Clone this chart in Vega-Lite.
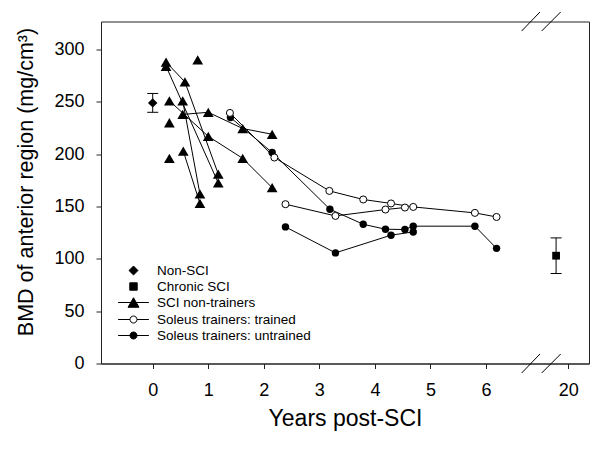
{
  "$schema": "https://vega.github.io/schema/vega-lite/v6.json",
  "width": 488,
  "height": 342,
  "autosize": "none",
  "padding": {"left": 101, "top": 21.5, "right": 11, "bottom": 85.5},
  "background": "white",
  "config": {
    "view": {"stroke": "#222", "strokeWidth": 1},
    "font": "Liberation Sans",
    "axis": {
      "grid": false,
      "domainColor": "#222",
      "tickColor": "#222",
      "tickSize": 5,
      "labelFont": "Liberation Sans",
      "labelFontSize": 18,
      "labelColor": "black",
      "titleFont": "Liberation Sans",
      "titleFontWeight": "normal",
      "titleColor": "black"
    }
  },
  "datasets": {
    "bmd": [
      {"series": "Non-SCI", "subject": "N", "year": 0, "bmd": 249, "lo": 240, "hi": 258},
      {"series": "Chronic SCI", "subject": "C", "year": 19.78, "bmd": 103, "lo": 86, "hi": 120},
      {"series": "SCI non-trainers", "subject": "T1", "year": 0.24, "bmd": 288},
      {"series": "SCI non-trainers", "subject": "T1", "year": 0.58, "bmd": 269},
      {"series": "SCI non-trainers", "subject": "T1", "year": 1.18, "bmd": 181},
      {"series": "SCI non-trainers", "subject": "T2", "year": 0.24, "bmd": 284},
      {"series": "SCI non-trainers", "subject": "T2", "year": 1.18, "bmd": 172.5},
      {"series": "SCI non-trainers", "subject": "T3", "year": 0.30, "bmd": 251},
      {"series": "SCI non-trainers", "subject": "T3", "year": 1.00, "bmd": 217},
      {"series": "SCI non-trainers", "subject": "T3", "year": 1.62, "bmd": 196},
      {"series": "SCI non-trainers", "subject": "T3", "year": 2.15, "bmd": 168},
      {"series": "SCI non-trainers", "subject": "T4", "year": 0.54, "bmd": 238},
      {"series": "SCI non-trainers", "subject": "T4", "year": 1.00, "bmd": 240},
      {"series": "SCI non-trainers", "subject": "T4", "year": 1.62, "bmd": 224.5},
      {"series": "SCI non-trainers", "subject": "T4", "year": 2.15, "bmd": 219},
      {"series": "SCI non-trainers", "subject": "T5", "year": 0.54, "bmd": 251},
      {"series": "SCI non-trainers", "subject": "T5", "year": 0.85, "bmd": 162},
      {"series": "SCI non-trainers", "subject": "T6", "year": 0.55, "bmd": 203},
      {"series": "SCI non-trainers", "subject": "T6", "year": 0.85, "bmd": 153},
      {"series": "SCI non-trainers", "subject": "T7", "year": 0.81, "bmd": 290},
      {"series": "SCI non-trainers", "subject": "T8", "year": 0.30, "bmd": 230},
      {"series": "SCI non-trainers", "subject": "T9", "year": 0.30, "bmd": 196},
      {"series": "Soleus trainers: trained", "subject": "A", "year": 1.39, "bmd": 239.4},
      {"series": "Soleus trainers: trained", "subject": "A", "year": 2.19, "bmd": 196.8},
      {"series": "Soleus trainers: trained", "subject": "A", "year": 3.18, "bmd": 164.9},
      {"series": "Soleus trainers: trained", "subject": "A", "year": 3.79, "bmd": 156.7},
      {"series": "Soleus trainers: trained", "subject": "A", "year": 4.29, "bmd": 152.9},
      {"series": "Soleus trainers: trained", "subject": "A", "year": 4.69, "bmd": 149.6},
      {"series": "Soleus trainers: trained", "subject": "A", "year": 5.80, "bmd": 143.9},
      {"series": "Soleus trainers: trained", "subject": "A", "year": 6.19, "bmd": 140},
      {"series": "Soleus trainers: trained", "subject": "B", "year": 2.39, "bmd": 152.2},
      {"series": "Soleus trainers: trained", "subject": "B", "year": 3.29, "bmd": 141},
      {"series": "Soleus trainers: trained", "subject": "B", "year": 4.19, "bmd": 147.1},
      {"series": "Soleus trainers: trained", "subject": "B", "year": 4.54, "bmd": 149},
      {"series": "Soleus trainers: untrained", "subject": "A", "year": 1.40, "bmd": 235},
      {"series": "Soleus trainers: untrained", "subject": "A", "year": 2.15, "bmd": 201.6},
      {"series": "Soleus trainers: untrained", "subject": "A", "year": 3.19, "bmd": 147.4},
      {"series": "Soleus trainers: untrained", "subject": "A", "year": 3.79, "bmd": 133},
      {"series": "Soleus trainers: untrained", "subject": "A", "year": 4.19, "bmd": 128.3},
      {"series": "Soleus trainers: untrained", "subject": "A", "year": 4.54, "bmd": 128},
      {"series": "Soleus trainers: untrained", "subject": "A", "year": 4.69, "bmd": 131.2},
      {"series": "Soleus trainers: untrained", "subject": "A", "year": 5.80, "bmd": 131.2},
      {"series": "Soleus trainers: untrained", "subject": "A", "year": 6.19, "bmd": 110},
      {"series": "Soleus trainers: untrained", "subject": "B", "year": 2.39, "bmd": 130.5},
      {"series": "Soleus trainers: untrained", "subject": "B", "year": 3.29, "bmd": 105.7},
      {"series": "Soleus trainers: untrained", "subject": "B", "year": 4.29, "bmd": 122.6},
      {"series": "Soleus trainers: untrained", "subject": "B", "year": 4.69, "bmd": 125.7}
    ],
    "groups": [
      {"series": "Non-SCI"},
      {"series": "Chronic SCI"},
      {"series": "SCI non-trainers"},
      {"series": "Soleus trainers: trained"},
      {"series": "Soleus trainers: untrained"}
    ],
    "axisbreak": [
      {"year": 13.4, "bmd": 0},
      {"year": 13.4, "bmd": 326.75}
    ]
  },
  "encoding": {
    "x": {
      "field": "year",
      "type": "quantitative",
      "scale": {"domain": [-0.931, 6.9, 19.6, 20.373], "range": [0, 435, 445.1, 488], "nice": false, "zero": false},
      "axis": {"values": [0, 1, 2, 3, 4, 5, 6, 20], "title": "Years post-SCI", "titleFontSize": 23, "labelPadding": 13, "titlePadding": 8, "labelFlush": false}
    },
    "y": {
      "field": "bmd",
      "type": "quantitative",
      "scale": {"domain": [0, 326.75], "nice": false, "zero": true},
      "axis": {"values": [0, 50, 100, 150, 200, 250, 300], "title": "BMD of anterior region (mg/cm³)", "titleFontSize": 21.5, "titleY": 160, "titleX": -68.5, "titleBaseline": "alphabetic", "titleAngle": 270, "titleAlign": "center", "labelFlush": false, "labelPadding": 12,
        "encode": {"labels": {"update": {"dx": {"value": -12}}}}}
    }
  },
  "layer": [
    {
      "data": {"name": "bmd"},
      "transform": [{"filter": "datum.series !== 'Non-SCI' && datum.series !== 'Chronic SCI'"}],
      "mark": {"type": "line", "color": "black", "strokeWidth": 1},
      "encoding": {"detail": [{"field": "series"}, {"field": "subject"}]}
    },
    {
      "data": {"name": "bmd"},
      "transform": [{"filter": "datum.lo != null"}],
      "mark": {"type": "rule", "color": "black", "strokeWidth": 1},
      "encoding": {"y": {"field": "lo", "type": "quantitative"}, "y2": {"field": "hi"}}
    },
    {
      "data": {"name": "bmd"},
      "transform": [{"filter": "datum.lo != null"}],
      "mark": {"type": "tick", "orient": "horizontal", "color": "black", "size": 11, "thickness": 1, "opacity": 1},
      "encoding": {"y": {"field": "lo", "type": "quantitative"}}
    },
    {
      "data": {"name": "bmd"},
      "transform": [{"filter": "datum.lo != null"}],
      "mark": {"type": "tick", "orient": "horizontal", "color": "black", "size": 11, "thickness": 1, "opacity": 1},
      "encoding": {"y": {"field": "hi", "type": "quantitative"}}
    },
    {
      "data": {"name": "bmd"},
      "transform": [{"filter": "datum.series === 'Non-SCI'"}],
      "mark": {"type": "point", "shape": "diamond", "filled": true, "color": "black", "size": 90, "opacity": 1}
    },
    {
      "data": {"name": "bmd"},
      "transform": [{"filter": "datum.series === 'Chronic SCI'"}],
      "mark": {"type": "point", "shape": "square", "filled": true, "color": "black", "size": 60, "opacity": 1}
    },
    {
      "data": {"name": "bmd"},
      "transform": [{"filter": "datum.series === 'SCI non-trainers'"}],
      "mark": {"type": "point", "shape": "triangle-up", "filled": true, "color": "black", "size": 115, "opacity": 1}
    },
    {
      "data": {"name": "bmd"},
      "transform": [{"filter": "datum.series === 'Soleus trainers: untrained'"}],
      "mark": {"type": "point", "shape": "circle", "filled": true, "color": "black", "size": 55, "opacity": 1}
    },
    {
      "data": {"name": "bmd"},
      "transform": [{"filter": "datum.series === 'Soleus trainers: trained'"}],
      "mark": {"type": "point", "shape": "circle", "filled": true, "fill": "white", "stroke": "black", "strokeWidth": 1, "size": 50, "opacity": 1}
    },
    {
      "data": {"name": "axisbreak"},
      "mark": {"type": "point", "shape": "M-0.975,0.475L-0.06,-0.475M0.025,0.475L0.975,-0.475", "filled": false, "stroke": "black", "strokeWidth": 1, "size": 1600, "opacity": 1}
    },
    {
      "data": {"name": "groups"},
      "mark": {"type": "point", "filled": true, "stroke": "black", "strokeWidth": 1, "opacity": 0},
      "encoding": {
        "x": {"datum": 0, "type": "quantitative"},
        "y": {"datum": 0, "type": "quantitative"},
        "color": {
          "field": "series", "type": "nominal",
          "scale": {"domain": ["Non-SCI", "Chronic SCI", "SCI non-trainers", "Soleus trainers: trained", "Soleus trainers: untrained"], "range": ["black", "black", "black", "white", "black"]},
          "legend": {"orient": "none", "legendX": 25, "legendY": 241.5, "title": null, "direction": "vertical", "symbolSize": 196, "symbolStrokeWidth": 1, "symbolStrokeColor": "black", "symbolOpacity": 1, "labelFont": "Liberation Sans", "labelFontSize": 13.5, "labelColor": "black", "labelOffset": 16, "rowPadding": 2, "padding": 0, "labelLimit": 300,
            "encode": {"symbols": {"update": {"stroke": {"value": "black"}, "strokeWidth": {"value": 1}, "strokeOpacity": {"value": 1}}}}}
        },
        "shape": {
          "field": "series", "type": "nominal",
          "scale": {"domain": ["Non-SCI", "Chronic SCI", "SCI non-trainers", "Soleus trainers: trained", "Soleus trainers: untrained"], "range": [
            "M-0.64,0L0,-0.64L0.64,0L0,0.64Z",
            "M-0.53,-0.53H0.53V0.53H-0.53Z",
            "M-2.2,0H2.2M0,-0.68L0.78,0.68H-0.78Z",
            "M-2.2,0H-0.5M0.5,0H2.2M0.5,0A0.5,0.5 0 1,1 -0.5,0A0.5,0.5 0 1,1 0.5,0Z",
            "M-2.2,0H2.2M0.5,0A0.5,0.5 0 1,1 -0.5,0A0.5,0.5 0 1,1 0.5,0Z"
          ]},
          "legend": {"orient": "none", "legendX": 25, "legendY": 241.5, "title": null, "direction": "vertical", "symbolSize": 196, "symbolStrokeWidth": 1, "symbolStrokeColor": "black", "symbolOpacity": 1, "labelFont": "Liberation Sans", "labelFontSize": 13.5, "labelColor": "black", "labelOffset": 16, "rowPadding": 2, "padding": 0, "labelLimit": 300,
            "encode": {"symbols": {"update": {"stroke": {"value": "black"}, "strokeWidth": {"value": 1}, "strokeOpacity": {"value": 1}}}}}
        }
      }
    }
  ]
}
